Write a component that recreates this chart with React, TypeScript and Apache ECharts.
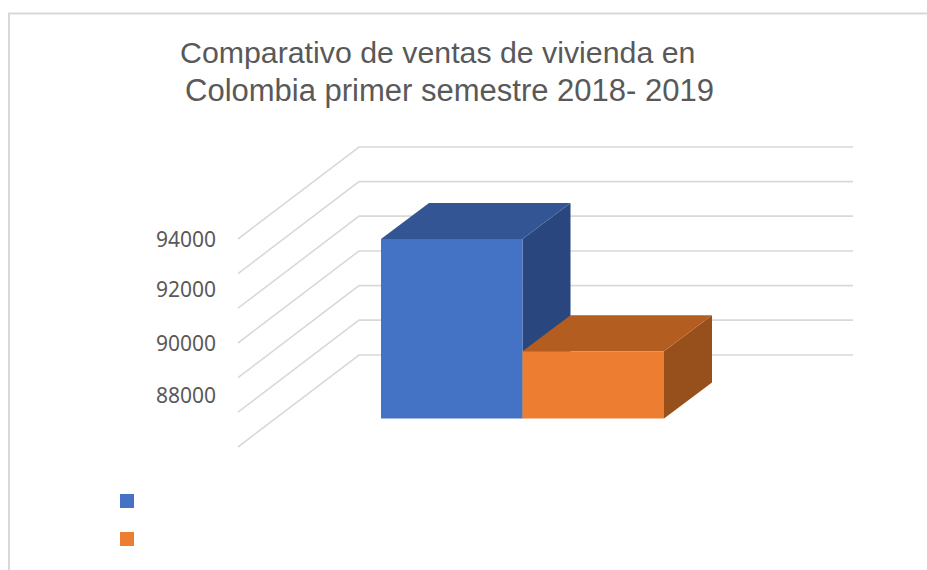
import React, { useEffect, useRef } from "react";
import * as echarts from "echarts";

// Viviendas vendidas, primer semestre de cada año
const years = ["2018", "2019"];
const sales2018 = [[0, 94000]];
const sales2019 = [[1, 89680]];
const floorValue = 87100;
const tickValues = [88000, 90000, 92000, 94000];
const wallLevels = [86000, 87340, 88670, 90000, 91340, 92670, 94000];
const titleLines = [
  "Comparativo de ventas de vivienda en",
  "Colombia primer semestre 2018- 2019",
];

const FONT_AXIS = '"Noto Sans", sans-serif';
const FONT_TITLE = '"Liberation Sans", Arial, sans-serif';
const DEPTH_X = 48;
const DEPTH_Y = 36;

// Prisma de una barra: cara frontal, cara superior y cara lateral
function prism(front: string, top: string, side: string) {
  return (_params: any, api: any) => {
    const cat = api.value(0);
    const [cx, yTop] = api.coord([cat, api.value(1)]);
    const [, yBase] = api.coord([cat, floorValue]);
    const half = api.size([1, 0])[0] / 2;
    const l = cx - half;
    const r = cx + half;
    const face = (points: number[][], fill: string) => ({
      type: "polygon",
      shape: { points },
      style: { fill },
    });
    return {
      type: "group",
      children: [
        face([[r, yTop], [r + DEPTH_X, yTop - DEPTH_Y], [r + DEPTH_X, yBase - DEPTH_Y], [r, yBase]], side),
        face([[l, yTop], [l + DEPTH_X, yTop - DEPTH_Y], [r + DEPTH_X, yTop - DEPTH_Y], [r, yTop]], top),
        face([[l, yTop], [r, yTop], [r, yBase], [l, yBase]], front),
      ],
    };
  };
}

// Líneas de división sobre el suelo y la pared del fondo
function wallLine(params: any, api: any) {
  const y = api.coord([0, api.value(1)])[1];
  const left = params.coordSys.x;
  return {
    type: "polyline",
    shape: {
      points: [
        [left - 143, y],
        [left - 22, y - 92],
        [left + 472, y - 92],
      ],
    },
    style: { fill: "none", stroke: "#d9d9d9", lineWidth: 1.6 },
  };
}

const titleStyle = (fontSize: number) => ({
  fontFamily: FONT_TITLE,
  fontSize,
  fontWeight: "normal",
  color: "#595959",
  lineHeight: 40,
});

export default function App() {
  const ref = useRef<HTMLDivElement>(null);

  useEffect(() => {
    const chart = echarts.init(ref.current!, undefined, { renderer: "svg" });
    chart.setOption({
      animation: false,
      backgroundColor: "#ffffff",
      title: [
        { text: titleLines[0], left: 175, top: 27, textStyle: titleStyle(30.3) },
        { text: titleLines[1], left: 180, top: 65.5, textStyle: titleStyle(31) },
      ],
      legend: {
        data: years,
        orient: "vertical",
        left: 120,
        top: 494,
        padding: 0,
        icon: "rect",
        itemWidth: 14,
        itemHeight: 14,
        itemGap: 24,
        formatter: () => "",
        selectedMode: false,
      },
      grid: { left: 381, right: 263, top: 239, height: 208 },
      xAxis: {
        type: "category",
        data: years,
        axisLine: { show: false },
        axisTick: { show: false },
        axisLabel: { show: false },
      },
      yAxis: {
        type: "value",
        min: 86000,
        max: 94000,
        interval: 2000,
        axisLine: { show: false },
        axisTick: { show: false },
        splitLine: { show: false },
        axisLabel: {
          customValues: tickValues,
          margin: 165,
          color: "#595959",
          fontFamily: FONT_AXIS,
          fontSize: 21,
          // La etiqueta de 92000 va un poco más alta que el paso regular
          formatter: (v: number) => (v === 92000 ? `{raised|${v}}` : String(v)),
          rich: {
            raised: {
              color: "#595959",
              fontFamily: FONT_AXIS,
              fontSize: 21,
              padding: [0, 0, 5, 0],
            },
          },
        },
      },
      series: [
        {
          type: "custom",
          name: "Divisiones",
          silent: true,
          z: 1,
          data: wallLevels.map((v) => [0, v]),
          encode: { x: 0, y: 1 },
          renderItem: wallLine,
        },
        {
          type: "custom",
          name: "2018",
          silent: true,
          z: 2,
          itemStyle: { color: "#4472c4" },
          data: sales2018,
          encode: { x: 0, y: 1 },
          renderItem: prism("#4472c4", "#335593", "#29477e"),
        },
        {
          type: "custom",
          name: "2019",
          silent: true,
          z: 3,
          itemStyle: { color: "#ed7d31" },
          data: sales2019,
          encode: { x: 0, y: 1 },
          renderItem: prism("#ed7d31", "#b35d20", "#974f1b"),
        },
      ],
      graphic: [
        {
          type: "polyline",
          silent: true,
          shape: { points: [[9, 570], [9, 13.5], [927, 13.5]] },
          style: { fill: "none", stroke: "#d9d9d9", lineWidth: 2 },
        },
      ],
    });
    return () => chart.dispose();
  }, []);

  return (
    <div
      ref={ref}
      style={{ position: "absolute", left: 0, top: 0, width: 927, height: 570 }}
    />
  );
}
